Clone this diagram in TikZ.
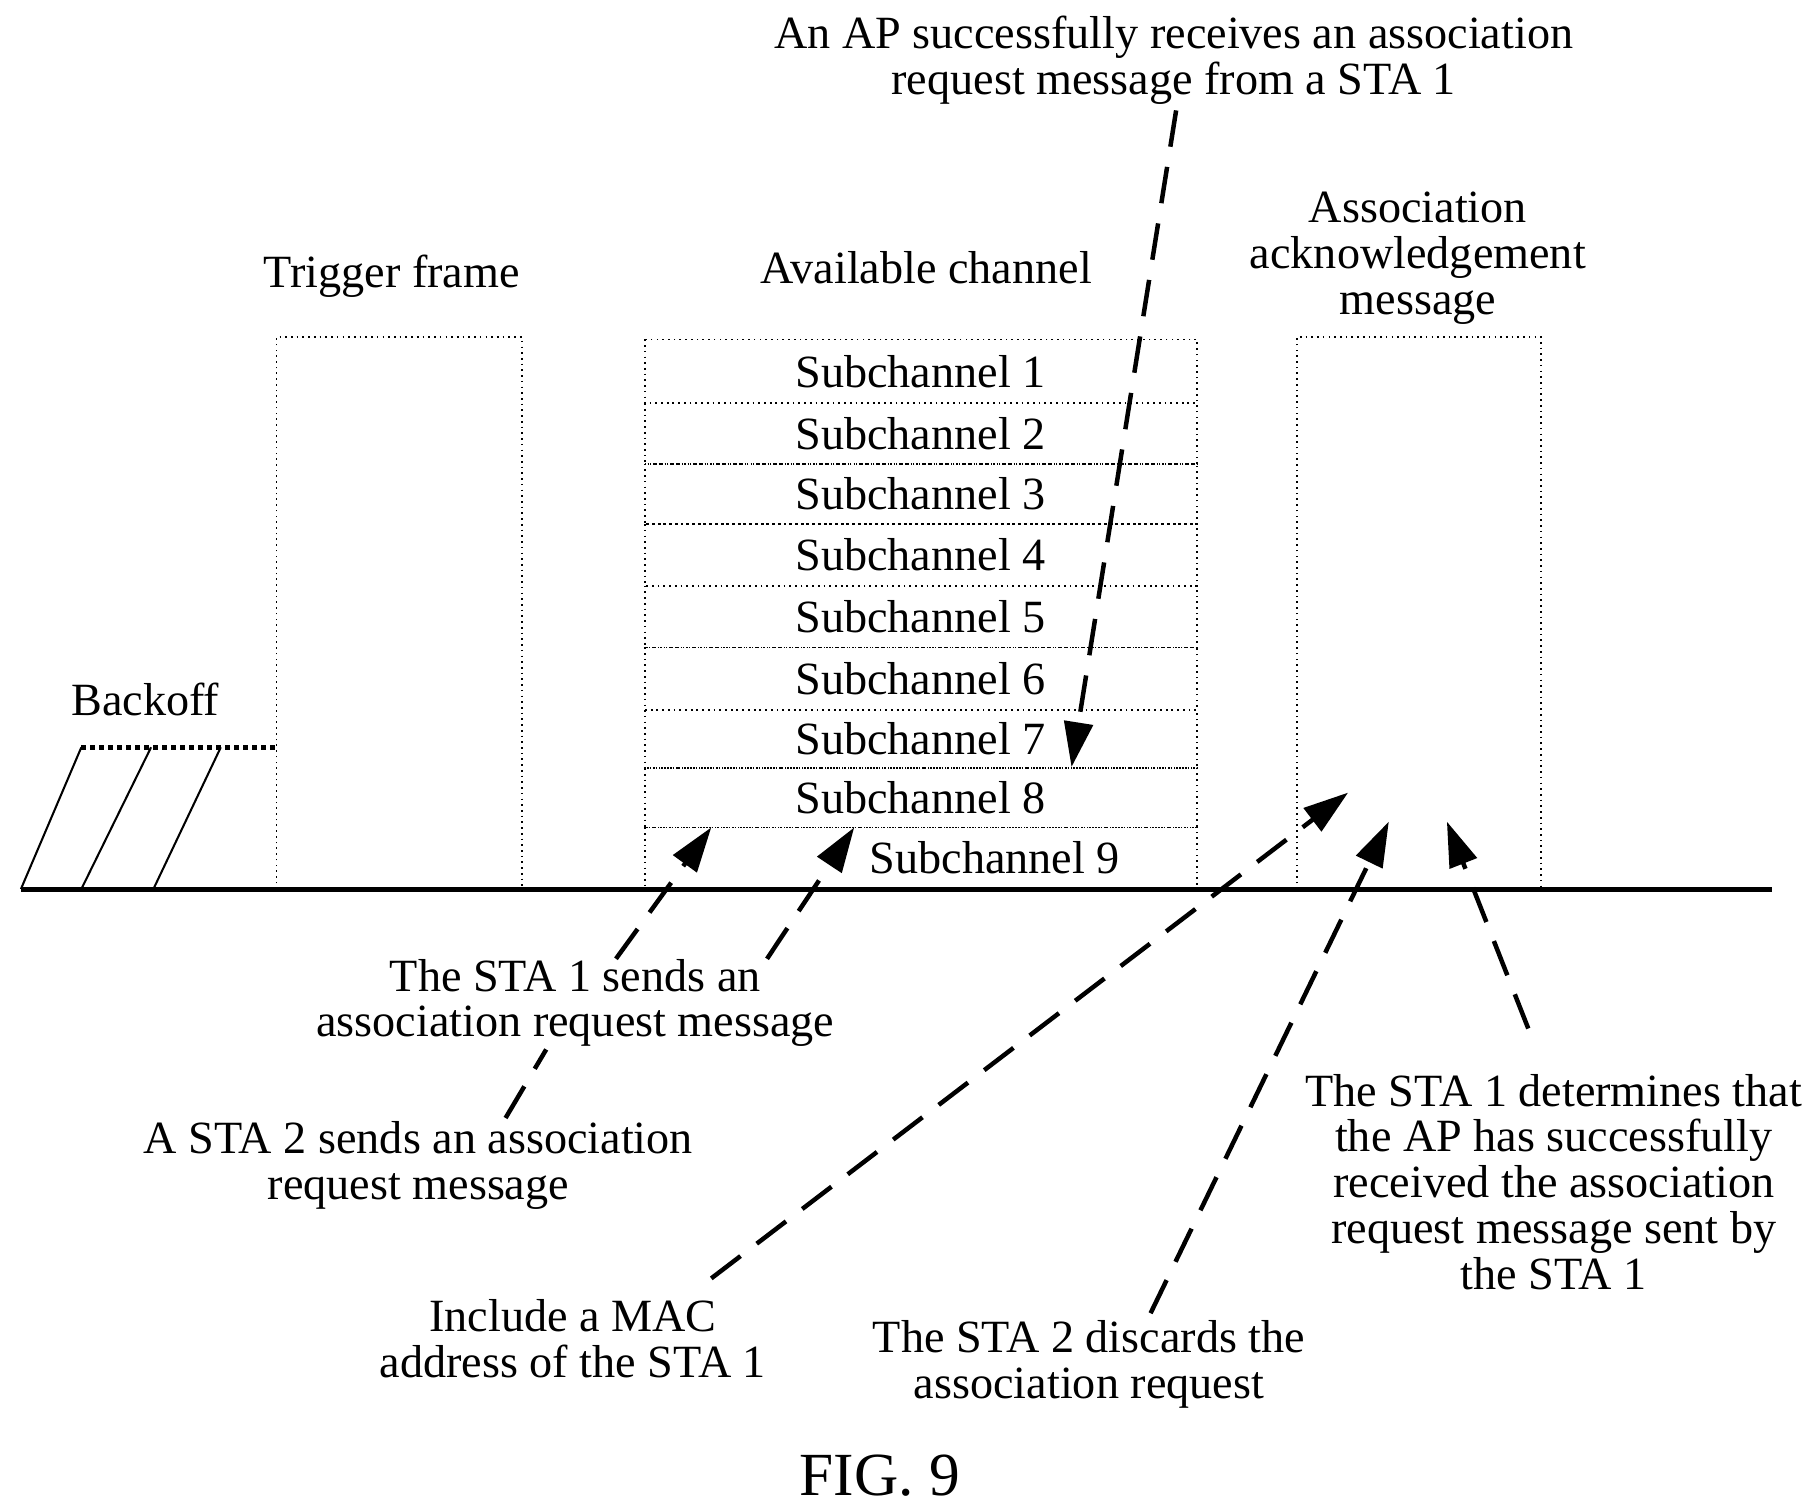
\documentclass[tikz,border=0pt]{standalone}
\usepackage{fontspec}
\setmainfont{Liberation Serif}
\usetikzlibrary{arrows.meta}
\begin{document}
\begin{tikzpicture}[x=0.01cm,y=-0.01cm,
  box/.style={draw,densely dotted,line width=0.4pt},
  lbl/.style={font=\fontsize{11.3}{11.2}\selectfont,align=center,inner sep=0pt},
  sub/.style={font=\fontsize{11.3}{12}\selectfont,inner sep=0pt},
  call/.style={dashed,dash pattern=on 9pt off 5pt,line width=1.1pt},
  arr/.style={call,-{Triangle[length=11pt,width=7pt]}}]
\useasboundingbox (0,0) rectangle (1560,1298);
% baseline
\draw[line width=1.2pt] (18,765) -- (1525,765);
% backoff
\draw[line width=1.2pt,densely dotted] (70,643) -- (238,643);
\draw[line width=0.5pt] (18,765)--(70,643) (70,765)--(130,643) (132,765)--(190,643);
\node[lbl] (bo) at (125,602) {Backoff};
% trigger
\draw[box] (238,765) |- (449,290) -- (449,765);
\node[lbl] (tf) at (337,238) {Trigger frame};
% available channel
\node[lbl] (ac) at (797,230) {Available channel};
\foreach \a/\b/\n in {292/347/1,347/399/2,399/451/3,451/504/4,504/557/5,557/611/6,611/661/7,661/712/8}{
  \draw[box] (555,\a) rectangle (1030,\b);
  \node[sub] (s\n) at (792,{(\a+\b)/2}) {Subchannel \n};
}
\draw[box] (555,712) rectangle (1030,765);
\node[sub] (s9) at (856,738) {Subchannel 9};
% ack
\draw[box] (1116,765) |- (1326,290) -- (1326,765);
\node[lbl] (ack) at (1220,222) {Association\\acknowledgement\\message};
% texts
\node[lbl] (ap) at (1010,52) {An AP successfully receives an association\\request message from a STA 1};
\node[lbl] (st1) at (495,863) {The STA 1 sends an\\association request message};
\node[lbl] (st2) at (360,1003) {A STA 2 sends an association\\request message};
\node[lbl] (mac) at (493,1152) {Include a MAC\\address of the STA 1};
\node[lbl] (dis) at (937,1174) {The STA 2 discards the\\association request};
\node[lbl] (det) at (1337,1017) {The STA 1 determines that\\the AP has successfully\\received the association\\request message sent by\\the STA 1};
\node[font=\fontsize{15}{18}\selectfont,inner sep=0pt] (fig) at (757,1270) {FIG. 9};
% connectors
\coordinate (a1) at (922,660);
\coordinate (a2) at (612,712);
\coordinate (a3) at (735,712);
\coordinate (a4) at (1160,682);
\coordinate (a5) at (1195,707);
\coordinate (a6) at (1245,707);
\draw[arr] (1012,95) -- (a1);
\draw[arr] (530,825) -- (a2);
\draw[arr] (660,825) -- (a3);
\draw[call] (435,962) -- (470,903);
\draw[arr] (612,1100) -- (a4);
\draw[arr] (990,1130) -- (a5);
\draw[arr] (1315,885) -- (a6);
\end{tikzpicture}
\end{document}
